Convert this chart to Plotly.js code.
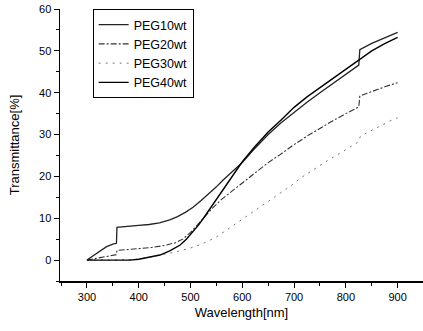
<!DOCTYPE html>
<html>
<head>
<meta charset="utf-8">
<script src="https://cdn.plot.ly/plotly-3.0.1.min.js"></script>
<style>html,body{margin:0;padding:0;background:#fff;}#chart{width:423px;height:331px;}</style>
</head>
<body>
<div id="chart"></div>
<script>
// Data
const seriesNames = ["PEG10wt", "PEG20wt", "PEG30wt", "PEG40wt"];

const peg10X = [300, 312, 325, 338, 350, 357, 358, 370, 383, 400, 420, 440, 460, 475, 490, 505, 520, 535, 550, 562, 575, 587, 600, 625, 650, 675, 700, 725, 750, 775, 800, 825, 827, 850, 875, 900];
const peg10Y = [0, 1.0, 2.1, 3.2, 3.8, 4.0, 7.8, 7.9, 8.1, 8.3, 8.5, 8.9, 9.6, 10.4, 11.4, 12.6, 14.2, 15.8, 17.5, 19.0, 20.5, 21.9, 23.3, 26.8, 30.0, 32.8, 35.3, 37.7, 40.0, 42.2, 44.5, 46.6, 50.3, 51.8, 53.1, 54.4];

const peg20X = [300, 325, 350, 357, 358, 380, 400, 425, 450, 470, 485, 500, 520, 543, 560, 579, 600, 625, 650, 673, 700, 730, 750, 775, 800, 825, 827, 850, 875, 900];
const peg20Y = [0, 0.6, 1.2, 1.3, 2.3, 2.5, 2.7, 3.0, 3.5, 4.1, 5.0, 6.6, 9.3, 12.5, 14.5, 16.4, 18.5, 21.0, 23.3, 25.2, 27.6, 30.0, 31.5, 33.3, 35.0, 36.6, 39.2, 40.3, 41.4, 42.4];

const peg30X = [300, 350, 400, 435, 470, 500, 520, 550, 576, 600, 634, 660, 692, 715, 737, 765, 795, 825, 828, 860, 891, 900];
const peg30Y = [0, 0, 0.2, 1.0, 1.9, 2.9, 3.7, 5.5, 7.7, 9.8, 12.8, 15.0, 17.6, 19.8, 21.6, 23.8, 26.0, 28.3, 29.6, 31.7, 33.6, 34.0];

const peg40X = [300, 350, 383, 400, 420, 441, 460, 480, 492, 505, 515, 525, 537, 550, 562, 575, 587, 600, 625, 650, 675, 700, 725, 750, 775, 800, 825, 850, 875, 900];
const peg40Y = [0, 0, 0, 0.2, 0.6, 1.2, 2.2, 3.6, 5.0, 6.8, 8.3, 10.0, 12.2, 14.5, 16.7, 19.0, 21.3, 23.5, 27.2, 30.6, 33.5, 36.5, 39.0, 41.2, 43.3, 45.5, 47.8, 50.0, 51.7, 53.2];

const xTickVals = [300, 400, 500, 600, 700, 800, 900];
const yTickVals = [0, 10, 20, 30, 40, 50, 60];

const traces = [
  {x: peg10X, y: peg10Y, name: seriesNames[0], mode: "lines",
   line: {color: "#222", width: 1.3, dash: "solid"}},
  {x: peg20X, y: peg20Y, name: seriesNames[1], mode: "lines",
   line: {color: "#333", width: 1.1, dash: "6px,2px,2px,2px"}},
  {x: peg30X, y: peg30Y, name: seriesNames[2], mode: "lines",
   line: {color: "#777", width: 1, dash: "2px,5px"}},
  {x: peg40X, y: peg40Y, name: seriesNames[3], mode: "lines",
   line: {color: "#000", width: 1.4, dash: "solid"}}
];

const fontFam = "Liberation Sans, Arial, sans-serif";

const layout = {
  width: 423, height: 331,
  margin: {l: 60, r: 0, t: 9, b: 50},
  paper_bgcolor: "#fff", plot_bgcolor: "#fff",
  font: {family: fontFam, color: "#000", size: 11},
  showlegend: true,
  legend: {
    x: 0.09, y: 1.0, xanchor: "left", yanchor: "top",
    bordercolor: "#000", borderwidth: 1, bgcolor: "#fff",
    font: {family: fontFam, size: 12.5, color: "#000"},
    tracegroupgap: 0
  },
  xaxis: {
    range: [248, 949],
    tickvals: xTickVals,
    ticks: "outside", ticklen: 5, tickwidth: 1, tickcolor: "#000",
    minor: {dtick: 50, tick0: 250, ticks: "outside", ticklen: 3, tickcolor: "#000"},
    showline: true, linecolor: "#000", linewidth: 1.5,
    showgrid: false, zeroline: false,
    tickfont: {size: 11},
    title: {text: "Wavelength[nm]", font: {size: 13}, standoff: 6}
  },
  yaxis: {
    range: [-5, 60],
    tickvals: yTickVals,
    ticks: "outside", ticklen: 5, tickwidth: 1, tickcolor: "#000",
    minor: {dtick: 5, tick0: 0, ticks: "outside", ticklen: 3, tickcolor: "#000"},
    showline: true, linecolor: "#000", linewidth: 1.5,
    showgrid: false, zeroline: false,
    tickfont: {size: 11},
    title: {text: "Transmittance[%]", font: {size: 13}, standoff: 16}
  }
};

Plotly.newPlot("chart", traces, layout, {displayModeBar: false, staticPlot: true});
</script>
</body>
</html>
